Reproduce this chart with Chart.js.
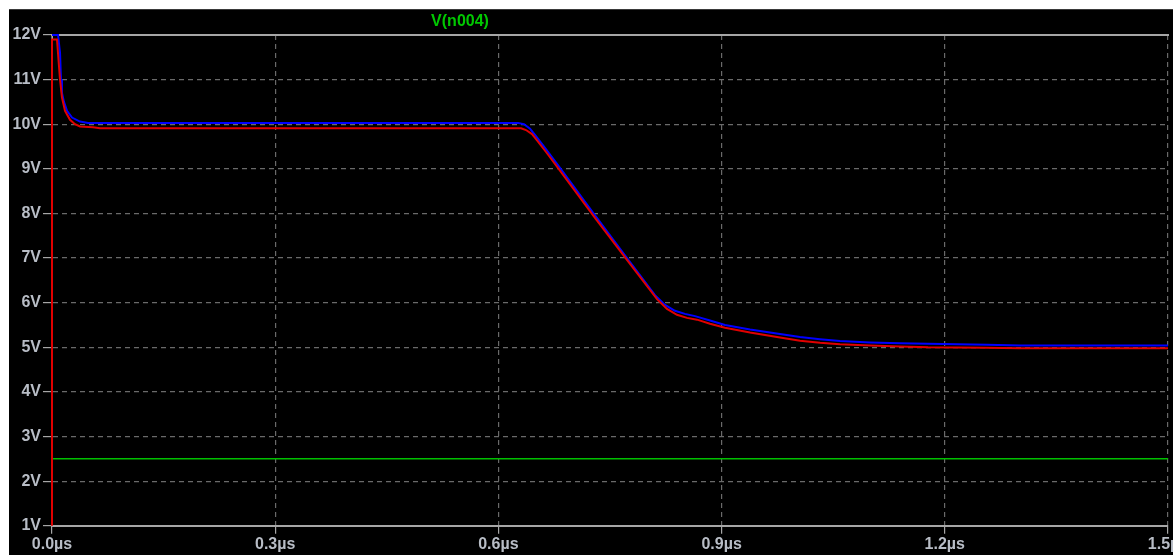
<!DOCTYPE html>
<html>
<head>
<meta charset="utf-8">
<script src="https://cdn.jsdelivr.net/npm/chart.js@4/dist/chart.umd.min.js"></script>
<style>
  html, body { margin: 0; padding: 0; background: #fff; overflow: hidden; width: 1173px; height: 555px; }
  #plot { position: absolute; left: 9px; top: 9px; width: 1250px; height: 546px; background: #000;
          border-top: 1px solid #3a3a3a; box-sizing: border-box; }
  #plot canvas { position: absolute; left: 0; top: -1px; }
</style>
</head>
<body>
<div id="plot"><canvas id="wave" width="1250" height="546"></canvas></div>
<script>
// transient sweep, time in µs
const traceName = 'V(n004)';
const xTicks = [0, 0.3, 0.6, 0.9, 1.2, 1.5];
const yTicks = [1, 2, 3, 4, 5, 6, 7, 8, 9, 10, 11, 12];

const blueTimes = [0, 0.0081, 0.0108, 0.0121, 0.0134, 0.0161, 0.0202, 0.0269, 0.0376, 0.0484,
  0.6264, 0.6344, 0.6425, 0.6492, 0.6626, 0.6828, 0.7271, 0.7729, 0.8105, 0.8239, 0.8373, 0.8508, 0.8643,
  0.8844, 0.9046, 0.9382, 0.9785, 1.0054, 1.0323, 1.0591, 1.0995, 1.1398, 1.1774, 1.2567, 1.3011, 1.5];
const blueVolts = [12.0, 12.0, 11.6, 11.0, 10.7, 10.5, 10.3, 10.15, 10.06, 10.03,
  10.03, 10.0, 9.9, 9.76, 9.47, 9.02, 8.02, 7.0, 6.17, 5.95, 5.82, 5.75, 5.70,
  5.60, 5.50, 5.40, 5.30, 5.23, 5.18, 5.14, 5.11, 5.09, 5.08, 5.06, 5.04, 5.04];

const redTimes = [0, 0, 0.0067, 0.0094, 0.0108, 0.0134, 0.0175, 0.0242, 0.0309, 0.0376, 0.0551, 0.0645,
  0.6304, 0.6371, 0.6452, 0.6519, 0.6653, 0.6855, 0.7298, 0.7756, 0.8132, 0.8266, 0.8400, 0.8535, 0.8670,
  0.8844, 0.9046, 0.9382, 0.9785, 1.0054, 1.0323, 1.0591, 1.0995, 1.1398, 1.1774, 1.2567, 1.3011, 1.5];
const redVolts = [1.0, 11.9, 11.9, 11.3, 11.0, 10.6, 10.3, 10.1, 10.0, 9.95, 9.93, 9.91,
  9.91, 9.87, 9.78, 9.64, 9.35, 8.9, 7.9, 6.9, 6.08, 5.86, 5.73, 5.66, 5.62,
  5.53, 5.44, 5.33, 5.22, 5.15, 5.10, 5.07, 5.04, 5.02, 5.00, 4.99, 4.98, 4.98];

const refTimes = [0, 1.5];
const refVolts = [2.5, 2.5];

const pts = (xs, ys) => xs.map((x, i) => ({ x, y: ys[i] }));

const gridColor = '#6a6a6a';
const axisColor = '#a6a6a6';
const labelColor = '#b8bdc6';
const labelFont = { family: 'Arial, "Liberation Sans", sans-serif', size: 16, weight: 'bold' };

// trace name above the plot area
const traceLabel = {
  id: 'traceLabel',
  afterDraw(chart) {
    const ctx = chart.ctx;
    ctx.save();
    ctx.fillStyle = '#00c800';
    ctx.font = 'bold 16px Arial, "Liberation Sans", sans-serif';
    ctx.textAlign = 'center';
    ctx.textBaseline = 'middle';
    ctx.fillText(traceName, 451, 13);
    ctx.restore();
  }
};

new Chart(document.getElementById('wave'), {
  type: 'line',
  data: {
    datasets: [
      { data: pts(redTimes, redVolts), borderColor: '#e00000', borderWidth: 2, clip: 4 },
      { data: pts(blueTimes, blueVolts), borderColor: '#0000ff', borderWidth: 2, clip: 4 },
      { data: pts(refTimes, refVolts), borderColor: '#00c000', borderWidth: 1.5 }
    ]
  },
  options: {
    responsive: false,
    animation: false,
    devicePixelRatio: 1,
    parsing: false,
    elements: { point: { radius: 0 }, line: { tension: 0 } },
    layout: { padding: { left: 0, top: 26, right: 91, bottom: 0 } },
    plugins: { legend: { display: false }, tooltip: { enabled: false } },
    scales: {
      x: {
        type: 'linear', min: 0, max: 1.5,
        afterBuildTicks: s => { s.ticks = xTicks.map(v => ({ value: v })); },
        ticks: { color: labelColor, font: labelFont, padding: 1, maxRotation: 0,
                 callback: v => v.toFixed(1) + 'µs' },
        grid: { color: gridColor, tickColor: axisColor, tickLength: 8, lineWidth: 1.2 },
        border: { color: axisColor, width: 2, dash: [5, 4] }
      },
      top: {
        type: 'linear', position: 'top', min: 0, max: 1.5,
        ticks: { display: false },
        grid: { display: false, drawTicks: false },
        border: { color: axisColor, width: 2 }
      },
      y: {
        min: 1, max: 12,
        afterBuildTicks: s => { s.ticks = yTicks.map(v => ({ value: v })); },
        afterFit: s => { s.width = 43; },
        ticks: { color: labelColor, font: labelFont, padding: 2, callback: v => v + 'V' },
        grid: { color: gridColor, tickColor: axisColor, tickLength: 9, lineWidth: 1.2 },
        border: { color: axisColor, width: 1, dash: [5, 4] }
      }
    }
  },
  plugins: [traceLabel]
});
</script>
</body>
</html>
